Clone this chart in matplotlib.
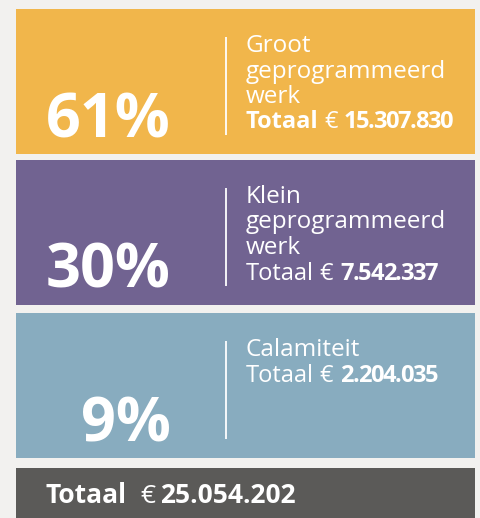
import matplotlib.pyplot as plt
from matplotlib.patches import Rectangle

plt.rcParams['font.family'] = ['Open Sans', 'DejaVu Sans']

# data
categories = [['Groot', 'geprogrammeerd', 'werk'],
              ['Klein', 'geprogrammeerd', 'werk'],
              ['Calamiteit']]
percentages = [61, 30, 9]
totals = [15307830, 7542337, 2204035]
grand_total = 25054202
bold_label = [True, False, False]

colors = ['#F1B64B', '#716391', '#88ACBF']
bg = '#F2F1EF'
dark = '#5B5A58'

W, H = 481, 518
fig = plt.figure(figsize=(W / 100, H / 100), dpi=100, facecolor=bg)
ax = fig.add_axes([0, 0, 1, 1])
ax.set_xlim(0, W)
ax.set_ylim(H, 0)
ax.axis('off')
ax.set_facecolor(bg)

renderer = fig.canvas.get_renderer()


def fmt(v):
    return '{:,}'.format(v).replace(',', '.')


def put(x, y, s, size, weight, track=0.0):
    # draw a string, optionally char by char with extra tracking; returns end x
    if track == 0.0:
        t = ax.text(x, y, s, fontsize=size, fontweight=weight, color='white',
                    ha='left', va='baseline')
        return t.get_window_extent(renderer).x1
    for ch in s:
        ax.text(x, y, ch, fontsize=size, fontweight=weight, color='white',
                ha='left', va='baseline')
        # advance of one char, measured against a bar
        probe = ax.text(0, 0, ch + '|', fontsize=size, fontweight=weight)
        bar = ax.text(0, 0, '|', fontsize=size, fontweight=weight)
        adv = (probe.get_window_extent(renderer).width
               - bar.get_window_extent(renderer).width)
        probe.remove()
        bar.remove()
        x += adv + track
    return x


panel_top = [9, 160, 313]
panel_h = 145
for i, (lab, pct, tot) in enumerate(zip(categories, percentages, totals)):
    top = panel_top[i]
    ax.add_patch(Rectangle((16, top), 459, panel_h, color=colors[i], lw=0))
    ax.plot([226, 226], [top + 28, top + 126], color='white', lw=1.3,
            solid_capstyle='butt')
    ax.text(171, top + 128, f'{pct}%', fontsize=44, fontweight='bold',
            color='white', ha='right', va='baseline')
    y = top + 43
    for line in lab:
        ax.text(246, y, line, fontsize=17.5, color='white', ha='left',
                va='baseline')
        y += 25.5
    if bold_label[i]:
        x = put(246, y, 'Totaal', 17, 'bold') + 6
        x = put(x, y, '€', 17, 'normal') + 5
    else:
        x = put(246, y, 'Totaal', 17, 'normal') + 5
        x = put(x, y, '€', 17, 'normal') + 8
    put(x, y, fmt(tot), 17, 'bold', track=-1.3)

ax.add_patch(Rectangle((16, 468), 459, 60, color=dark, lw=0))
x = put(46, 503, 'Totaal', 19, 'bold') + 13
x = put(x, 503, '€', 19, 'normal') + 5
put(x, 503, fmt(grand_total), 19, 'bold')

fig.savefig('out.png', dpi=100, facecolor=bg)
